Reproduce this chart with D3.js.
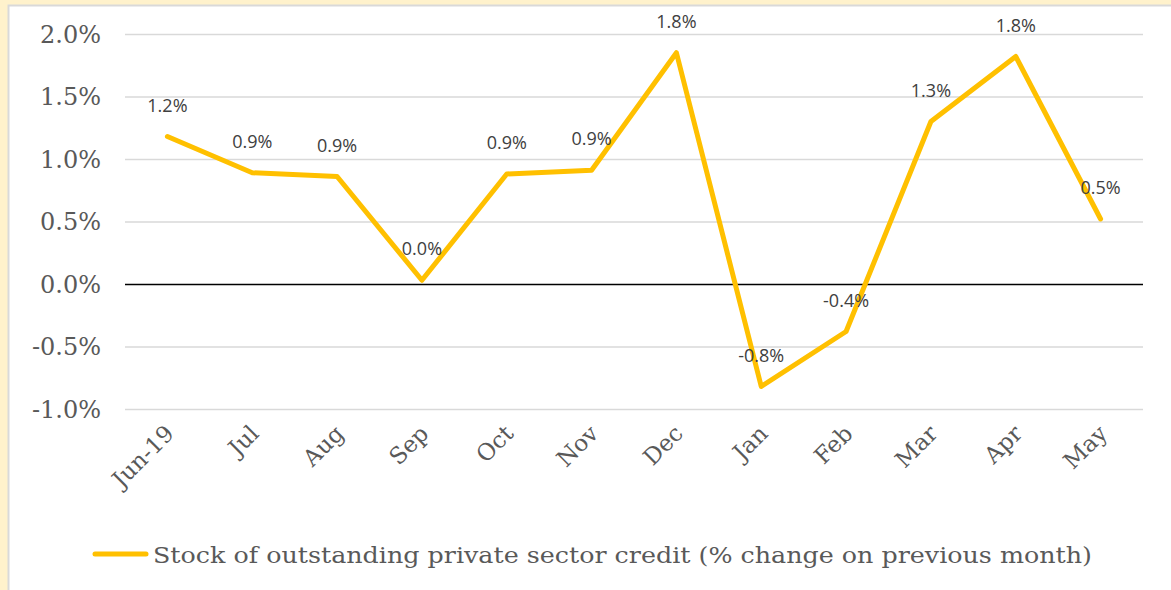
<!DOCTYPE html>
<html>
<head>
<meta charset="utf-8">
<script src="https://d3js.org/d3.v7.min.js"></script>
<style>
  html, body { margin: 0; padding: 0; background: #fff2cc; }
  svg { display: block; }
</style>
</head>
<body>
<div id="chart"></div>
<script>
// Data
const months = ['Jun-19', 'Jul', 'Aug', 'Sep', 'Oct', 'Nov', 'Dec', 'Jan', 'Feb', 'Mar', 'Apr', 'May'];
const creditGrowth = [1.18, 0.89, 0.86, 0.03, 0.88, 0.91, 1.85, -0.82, -0.38, 1.30, 1.82, 0.52];
const valueLabels = ['1.2%', '0.9%', '0.9%', '0.0%', '0.9%', '0.9%', '1.8%', '-0.8%', '-0.4%', '1.3%', '1.8%', '0.5%'];
const yTicks = [-1.0, -0.5, 0.0, 0.5, 1.0, 1.5, 2.0];
const seriesName = 'Stock of outstanding private sector credit (% change on previous month)';

const width = 1171, height = 590;
const plot = { left: 125, right: 1143, top: 34, bottom: 409 };

const svg = d3.select('#chart').append('svg')
    .attr('width', width)
    .attr('height', height);

// Cream page behind, white chart box with grey border
svg.append('rect')
    .attr('width', width).attr('height', height)
    .attr('fill', '#fff2cc');
svg.append('rect')
    .attr('x', 8.5).attr('y', 5.5)
    .attr('width', width + 10).attr('height', height + 10)
    .attr('fill', '#ffffff')
    .attr('stroke', '#d9d9d9')
    .attr('stroke-width', 2);

// Scales
const x = d3.scaleBand()
    .domain(months)
    .range([plot.left, plot.right]);

const y = d3.scaleLinear()
    .domain([-1.0, 2.0])
    .range([plot.bottom, plot.top]);

const serif = "DejaVu Serif, serif";
const sans = "Open Sans, Liberation Sans, sans-serif";

// Gridlines + y labels
const yAxis = d3.axisLeft(y)
    .tickValues(yTicks)
    .tickSize(-(plot.right - plot.left))
    .tickPadding(24)
    .tickFormat(d => d.toFixed(1) + '%');

const yg = svg.append('g')
    .attr('transform', `translate(${plot.left},0)`)
    .call(yAxis)
    .attr('font-family', null)
    .attr('font-size', null);
yg.select('.domain').remove();
yg.selectAll('.tick line')
    .attr('stroke', d => d === 0 ? '#000000' : '#d9d9d9')
    .attr('stroke-width', 1.5);
yg.selectAll('.tick text')
    .style('fill', '#595959')
    .style('font-family', serif)
    .style('font-size', '24px')
    .attr('dy', '0.35em');

// X labels (rotated)
const xg = svg.append('g')
    .attr('transform', `translate(0,${plot.bottom})`)
    .call(d3.axisBottom(x).tickSize(0).tickPadding(0))
    .attr('font-family', null)
    .attr('font-size', null);
xg.select('.domain').remove();
xg.selectAll('.tick text')
    .style('fill', '#595959')
    .style('font-family', serif)
    .style('font-size', '23px')
    .attr('text-anchor', 'end')
    .attr('dy', 0)
    .attr('transform', 'translate(8,26) rotate(-45)');

// Line
const line = d3.line()
    .x((d, i) => x(months[i]) + x.bandwidth() / 2)
    .y(d => y(d));

svg.append('path')
    .datum(creditGrowth)
    .attr('fill', 'none')
    .attr('stroke', '#ffc000')
    .attr('stroke-width', 5)
    .attr('stroke-linejoin', 'round')
    .attr('stroke-linecap', 'round')
    .attr('d', line);

// Data labels
svg.append('g')
    .selectAll('text')
    .data(creditGrowth)
    .enter()
    .append('text')
    .attr('x', (d, i) => x(months[i]) + x.bandwidth() / 2)
    .attr('y', d => y(d) - 25)
    .attr('text-anchor', 'middle')
    .style('fill', '#404040')
    .style('font-family', sans)
    .style('font-size', '18px')
    .text((d, i) => valueLabels[i]);

// Legend
const legend = svg.append('g');
legend.append('line')
    .attr('x1', 95).attr('x2', 146)
    .attr('y1', 554).attr('y2', 554)
    .attr('stroke', '#ffc000')
    .attr('stroke-width', 5)
    .attr('stroke-linecap', 'round');
legend.append('text')
    .attr('x', 153)
    .attr('y', 563)
    .style('fill', '#595959')
    .style('font-family', serif)
    .style('font-size', '22px')
    .attr('textLength', 939)
    .attr('lengthAdjust', 'spacingAndGlyphs')
    .text(seriesName);
</script>
</body>
</html>
